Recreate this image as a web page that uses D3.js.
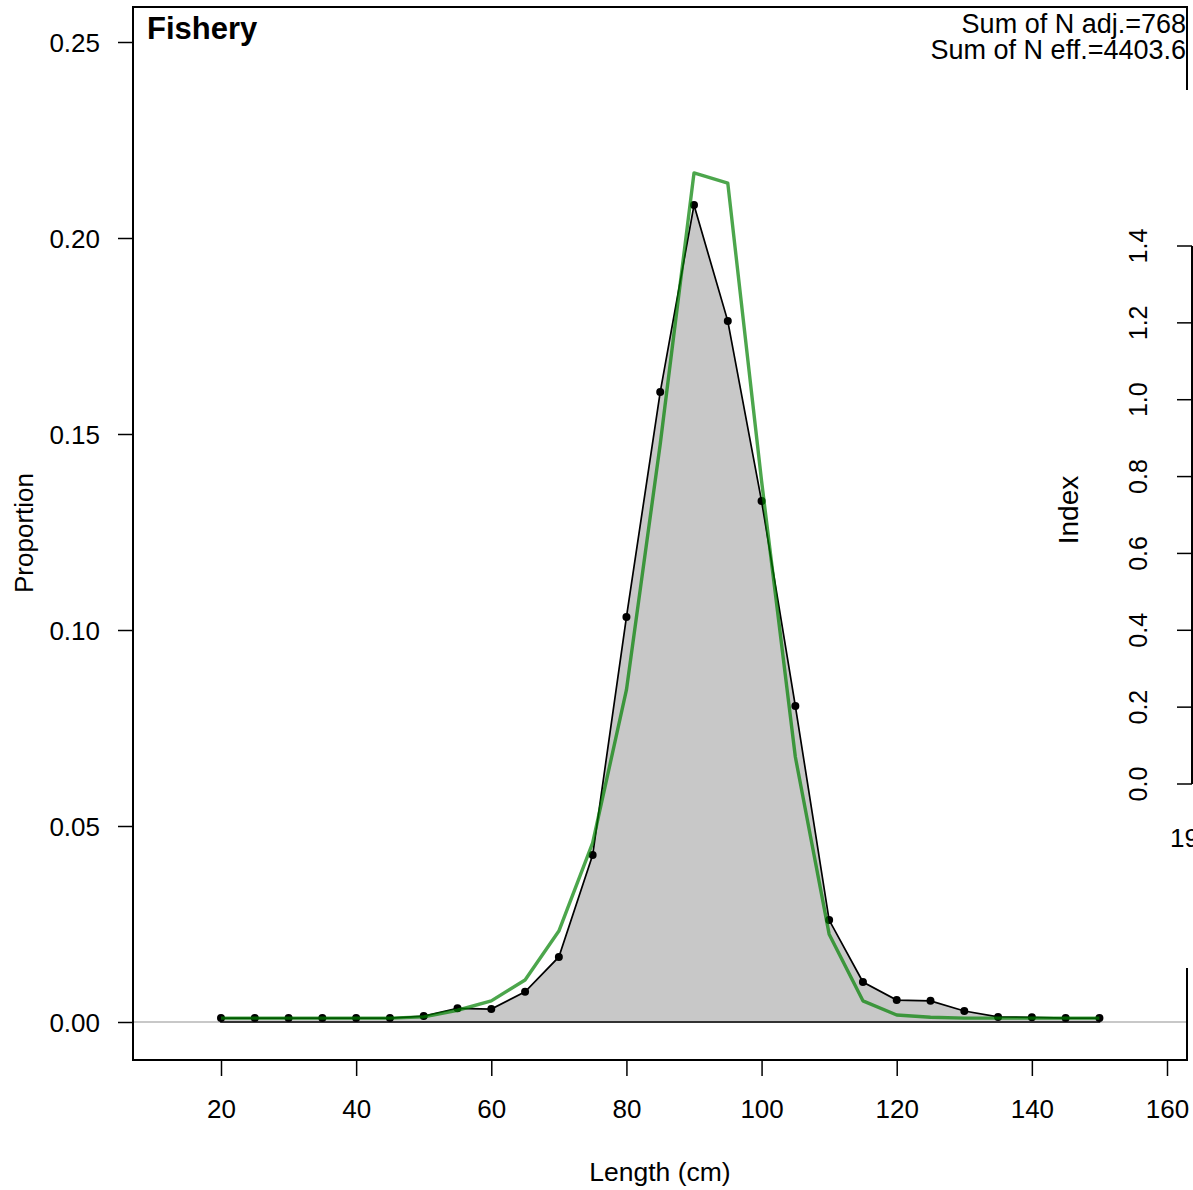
<!DOCTYPE html>
<html>
<head>
<meta charset="utf-8">
<script src="https://cdn.jsdelivr.net/npm/d3@7"></script>
<style>
  body { margin: 0; background: #fff; }
  svg text { font-family: "Liberation Sans", Arial, sans-serif; fill: #000; }
</style>
</head>
<body>
<svg id="chart" width="1193" height="1190"></svg>
<script>
// length bins (cm)
const lengths = [20, 25, 30, 35, 40, 45, 50, 55, 60, 65, 70, 75, 80, 85, 90,
                 95, 100, 105, 110, 115, 120, 125, 130, 135, 140, 145, 150];
// observed proportions
const observed = [0.001, 0.001, 0.001, 0.001, 0.001, 0.001, 0.0015, 0.0035, 0.0033, 0.0077,
                  0.0166, 0.0426, 0.1033, 0.1607, 0.2084, 0.1788, 0.1329, 0.0806, 0.026,
                  0.0102, 0.0056, 0.0054, 0.0028, 0.0013, 0.0012, 0.001, 0.001];
// expected proportions
const expected = [0.001, 0.001, 0.001, 0.001, 0.001, 0.001, 0.0013, 0.003, 0.0054, 0.0107,
                  0.0232, 0.0457, 0.0847, 0.1474, 0.2166, 0.214, 0.138, 0.0676, 0.0224,
                  0.0054, 0.0018, 0.0012, 0.001, 0.001, 0.001, 0.001, 0.001];

const xTicks = [20, 40, 60, 80, 100, 120, 140, 160];
const yTicks = [0, 0.05, 0.10, 0.15, 0.20, 0.25];
const indexTicks = [0, 0.2, 0.4, 0.6, 0.8, 1.0, 1.2, 1.4];

const svg = d3.select("#chart");

// plot box
const box = { left: 133, top: 7, right: 1187, bottom: 1060 };

const x = d3.scaleLinear().domain([20, 160]).range([221, 1167]);
const y = d3.scaleLinear().domain([0, 0.25]).range([1022, 42]);
const yIdx = d3.scaleLinear().domain([0, 1.4]).range([784, 246]);

// zero reference line
svg.append("line")
  .attr("x1", box.left).attr("x2", box.right)
  .attr("y1", y(0)).attr("y2", y(0))
  .attr("stroke", "#c8c8c8").attr("stroke-width", 2);

// observed polygon
const polyPts = [[lengths[0], 0]]
  .concat(lengths.map((d, i) => [d, observed[i]]))
  .concat([[lengths[lengths.length - 1], 0]]);
svg.append("path")
  .datum(polyPts)
  .attr("d", d3.line().x(d => x(d[0])).y(d => y(d[1])).curve(d3.curveLinearClosed))
  .attr("fill", "#c8c8c8")
  .attr("stroke", "#000")
  .attr("stroke-width", 1.7);

// observed points
svg.selectAll(".obs")
  .data(lengths)
  .enter().append("circle")
  .attr("class", "obs")
  .attr("cx", d => x(d))
  .attr("cy", (d, i) => y(observed[i]))
  .attr("r", 4)
  .attr("fill", "#000");

// expected line
svg.append("path")
  .datum(lengths.map((d, i) => [d, expected[i]]))
  .attr("d", d3.line().x(d => x(d[0])).y(d => y(d[1])))
  .attr("fill", "none")
  .attr("stroke", "rgba(0,128,0,0.7)")
  .attr("stroke-width", 3.4)
  .attr("stroke-linejoin", "round");

// box (right side broken where the inset panel covers it)
const boxPath = `M${box.right},90 L${box.right},${box.top} L${box.left},${box.top} ` +
  `L${box.left},${box.bottom} L${box.right},${box.bottom} L${box.right},968`;
svg.append("path")
  .attr("d", boxPath)
  .attr("fill", "none")
  .attr("stroke", "#000")
  .attr("stroke-width", 2);

// x axis
const xAxis = svg.append("g")
  .attr("transform", `translate(0,${box.bottom})`)
  .call(d3.axisBottom(x).tickValues(xTicks).tickSize(16).tickFormat(d3.format("d")));
xAxis.select(".domain").remove();
xAxis.selectAll("line").attr("stroke", "#000").attr("stroke-width", 1.5);
xAxis.selectAll("text").style("font-size", "26px").attr("dy", 0).attr("y", 58);

// y axis
const yAxis = svg.append("g")
  .attr("transform", `translate(${box.left},0)`)
  .call(d3.axisLeft(y).tickValues(yTicks).tickSize(15).tickFormat(d3.format(".2f")));
yAxis.select(".domain").remove();
yAxis.selectAll("line").attr("stroke", "#000").attr("stroke-width", 1.5);
yAxis.selectAll("text").style("font-size", "26px").attr("x", -33).attr("dy", "0.35em");

// inset index axis on the right
const idxX = 1192;
svg.append("line")
  .attr("x1", idxX).attr("x2", idxX)
  .attr("y1", yIdx(0)).attr("y2", yIdx(1.4))
  .attr("stroke", "#000").attr("stroke-width", 2);
const idxG = svg.append("g");
idxG.selectAll("line")
  .data(indexTicks)
  .enter().append("line")
  .attr("x1", idxX - 15).attr("x2", idxX)
  .attr("y1", d => yIdx(d)).attr("y2", d => yIdx(d))
  .attr("stroke", "#000").attr("stroke-width", 1.5);
idxG.selectAll("text")
  .data(indexTicks)
  .enter().append("text")
  .attr("transform", d => `translate(1147,${yIdx(d)}) rotate(-90)`)
  .attr("text-anchor", "middle")
  .style("font-size", "25px")
  .text(d => d.toFixed(1));

svg.append("text")
  .attr("transform", "translate(1078,510) rotate(-90)")
  .attr("text-anchor", "middle")
  .style("font-size", "28px")
  .text("Index");

svg.append("text")
  .attr("x", 1170).attr("y", 847)
  .style("font-size", "26px")
  .text("19");

// titles and labels
svg.append("text")
  .attr("x", 147).attr("y", 39)
  .style("font-size", "31px").style("font-weight", "bold")
  .text("Fishery");

svg.append("text")
  .attr("x", 1186).attr("y", 33)
  .attr("text-anchor", "end")
  .style("font-size", "27px")
  .text("Sum of N adj.=768");
svg.append("text")
  .attr("x", 1186).attr("y", 59)
  .attr("text-anchor", "end")
  .style("font-size", "27px")
  .text("Sum of N eff.=4403.6");

svg.append("text")
  .attr("transform", "translate(33,533) rotate(-90)")
  .attr("text-anchor", "middle")
  .style("font-size", "26px")
  .text("Proportion");

svg.append("text")
  .attr("x", 660).attr("y", 1181)
  .attr("text-anchor", "middle")
  .style("font-size", "26.5px")
  .text("Length (cm)");
</script>
</body>
</html>
